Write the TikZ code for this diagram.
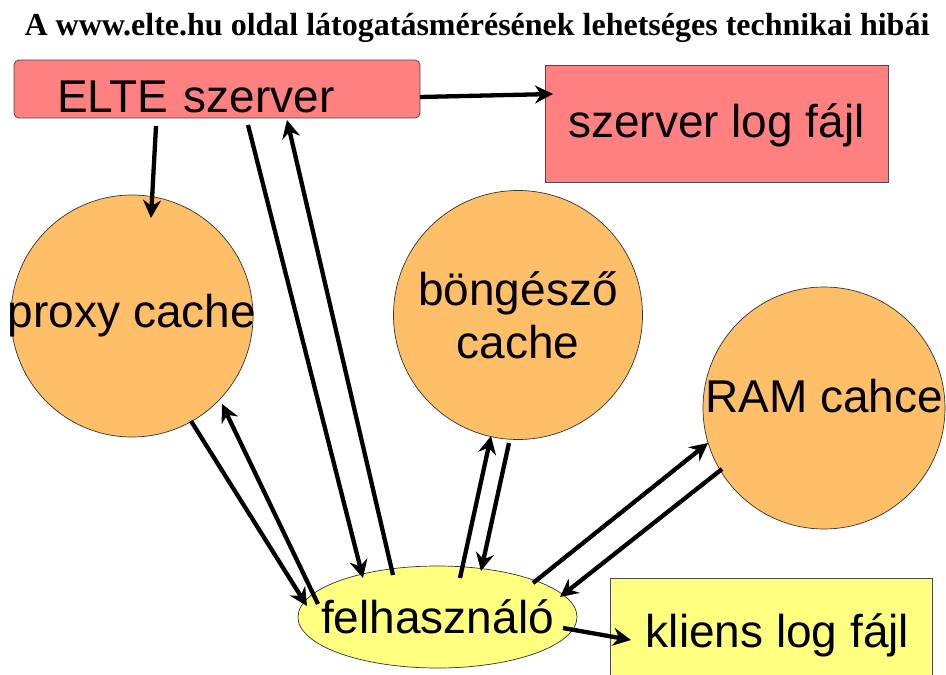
\documentclass[tikz,border=0pt]{standalone}
\usepackage{fontspec}
\setmainfont{Liberation Serif}
\newfontfamily\arialf{Liberation Sans}
\usetikzlibrary{arrows.meta,calc,shapes.geometric}
\definecolor{boxred}{RGB}{255,128,128}
\definecolor{cacheorange}{RGB}{255,191,104}
\definecolor{useryellow}{RGB}{255,255,128}
\begin{document}
\begin{tikzpicture}[x=1pt,y=-1pt,
  lbl/.style={font=\arialf\fontsize{46}{53}\selectfont, inner sep=0pt},
  redbox/.style={lbl, draw=black!70, line width=0.8pt, fill=boxred},
  yellowbox/.style={lbl, draw=black!70, line width=0.8pt, fill=useryellow},
  cachecirc/.style={lbl, circle, draw=black!80, line width=0.7pt, fill=cacheorange},
  usershape/.style={lbl, ellipse, draw=black!80, line width=0.7pt, fill=useryellow},
  arr/.style={line width=4.3pt, -{Stealth[length=18pt,width=18pt,inset=6pt]}}]
\useasboundingbox (0,0) rectangle (946,675);
\clip (0,0) rectangle (946,675);
\fill[white] (0,0) rectangle (946,675);

\node[anchor=base, font=\bfseries\fontsize{32}{38}\selectfont, inner sep=0pt] (title) at (477,35)
  {A www.elte.hu oldal látogatásmérésének lehetséges technikai hibái};

\node[redbox, rounded corners=5pt, minimum width=406pt, minimum height=58pt,
      text height=46pt, text depth=0pt, text width=320pt, align=left, inner xsep=43pt] (elte) at (217,89) {ELTE szerver};
\node[redbox, minimum width=343pt, minimum height=117pt, text height=33pt, text depth=6pt] (log) at (716.5,123.5) {szerver log fájl};
\node[cachecirc, minimum size=242pt, text height=33pt, text depth=11pt] (proxy) at (132,316) {\makebox[0pt]{proxy cache}};
\node[cachecirc, minimum size=249pt, text height=0pt, text depth=20pt] (bong) at (518,315)
  {\makebox[0pt]{\begin{tabular}[t]{@{}c@{}}böngésző\\cache\end{tabular}}};
\node[cachecirc, minimum size=242pt, text height=33pt, text depth=25pt] (ram) at (824,408) {\makebox[0pt]{RAM cahce}};
\node[usershape, minimum width=279pt, minimum height=102pt, text height=36pt, text depth=4pt] (fel) at (437.5,617) {\makebox[0pt]{felhasználó}};
\node[yellowbox, minimum width=322pt, minimum height=112pt, text height=33pt, text depth=7pt] (kliens) at (771.5,634) {\makebox[0pt]{\hspace*{12pt}kliens log fájl}};

\draw[arr] ($(elte)+(-61,37)$) -- ($(proxy)+(19,-98)$);
\draw[arr] ($(elte)+(203,8)$) -- ($(log)+(-163.5,-29.5)$);
\draw[arr] ($(elte)+(31,36)$) -- ($(fel)+(-74.5,-39)$);
\draw[arr] ($(fel)+(-44.5,-42)$) -- ($(elte)+(70,31)$);
\draw[arr] ($(proxy)+(59,105)$) -- ($(fel)+(-130.5,-11)$);
\draw[arr] ($(fel)+(-119.5,-13)$) -- ($(proxy)+(90,88)$);
\draw[arr] ($(fel)+(22.5,-39)$) -- ($(bong)+(-27,121)$);
\draw[arr] ($(bong)+(-9,128)$) -- ($(fel)+(43.5,-46)$);
\draw[arr] ($(fel)+(95.5,-34)$) -- ($(ram)+(-116,35)$);
\draw[arr] ($(ram)+(-102,61)$) -- ($(fel)+(122.5,-20)$);
\draw[arr] ($(fel)+(125.5,11)$) -- ($(kliens)+(-140.5,6)$);
\end{tikzpicture}
\end{document}
